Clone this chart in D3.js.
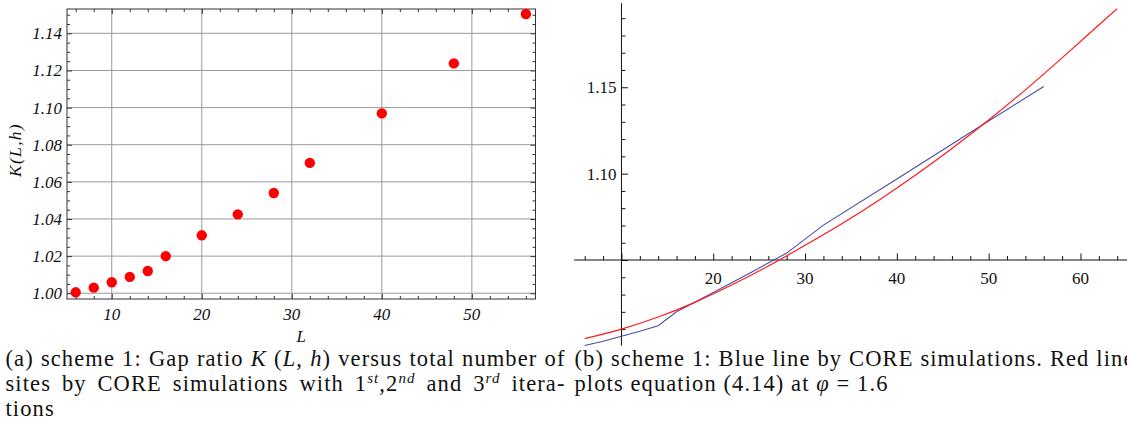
<!DOCTYPE html>
<html>
<head>
<meta charset="utf-8">
<script src="https://cdn.jsdelivr.net/npm/d3@7"></script>
<style>
  html, body { margin: 0; padding: 0; background: #fff; }
  svg { display: block; }
  .tickL { font-family: "Liberation Serif", serif; font-style: italic; font-size: 17px; fill: #111; }
  .tickR { font-family: "Liberation Serif", serif; font-size: 17px; fill: #111; }
  .cap { font-family: "Liberation Serif", serif; font-size: 22.5px; fill: #111; }
</style>
</head>
<body>
<svg id="fig" width="1127" height="429"></svg>
<script>
// CORE simulations: gap ratio K(L,h) against total number of sites L
const sites = [6, 8, 10, 12, 14, 16, 20, 24, 28, 32, 40, 48, 56];
const gapRatio = [1.0005, 1.003, 1.0059, 1.0088, 1.012, 1.020, 1.0312, 1.0425, 1.054, 1.0702, 1.0969, 1.1238, 1.1504];

// Equation (4.14) evaluated at phi = 1.6
const eqSites = [6, 10, 14, 18, 22, 26, 30, 34, 38, 42, 46, 50, 54, 58, 62, 64];
const eqRatio = [1.0045, 1.0100, 1.0170, 1.0255, 1.0355, 1.0465, 1.0585, 1.0710, 1.0845, 1.0990, 1.1145, 1.1310, 1.1485, 1.1670, 1.1860, 1.1955];

// Tick labels
const leftXTicks = [10, 20, 30, 40, 50];
const leftYTicks = [1.00, 1.02, 1.04, 1.06, 1.08, 1.10, 1.12, 1.14];
const rightXTicks = [20, 30, 40, 50, 60];
const rightYTicks = [1.10, 1.15];

const svg = d3.select("#fig");
const frameColor = "#333";

// ---------------- Panel (a): framed scatter plot ----------------
const xL = d3.scaleLinear().domain([5.03, 57.07]).range([67, 535.5]);
const yL = d3.scaleLinear().domain([0.9969, 1.1531]).range([299, 9]);
const [fx0, fx1] = xL.range();
const [fy1, fy0] = yL.range();

const left = svg.append("g");

// grid
left.append("g").selectAll("line").data(leftXTicks).join("line")
  .attr("x1", d => xL(d)).attr("x2", d => xL(d))
  .attr("y1", fy0).attr("y2", fy1)
  .attr("stroke", "#9a9a9a").attr("stroke-width", 1);
left.append("g").selectAll("line").data(leftYTicks).join("line")
  .attr("y1", d => yL(d)).attr("y2", d => yL(d))
  .attr("x1", fx0).attr("x2", fx1)
  .attr("stroke", "#9a9a9a").attr("stroke-width", 1);

// frame ticks (inward, on all four sides)
const minorX = d3.range(6, 57, 2).filter(v => v % 10 !== 0);
const minorY = d3.range(0, 31).filter(i => i % 4 !== 0).map(i => 1 + i * 0.005);

function frameTicks(axisGen, scale, values, size, tx, ty) {
  const g = left.append("g").attr("transform", `translate(${tx},${ty})`)
    .call(axisGen(scale).tickValues(values).tickSizeInner(size).tickSizeOuter(0).tickFormat(""));
  g.select(".domain").remove();
  g.selectAll("line").attr("stroke", frameColor);
}
frameTicks(d3.axisBottom, xL, leftXTicks, -5, 0, fy1);
frameTicks(d3.axisBottom, xL, minorX, -3, 0, fy1);
frameTicks(d3.axisTop, xL, leftXTicks, -5, 0, fy0);
frameTicks(d3.axisTop, xL, minorX, -3, 0, fy0);
frameTicks(d3.axisLeft, yL, leftYTicks, -5, fx0, 0);
frameTicks(d3.axisLeft, yL, minorY, -3, fx0, 0);
frameTicks(d3.axisRight, yL, leftYTicks, -5, fx1, 0);
frameTicks(d3.axisRight, yL, minorY, -3, fx1, 0);

// frame
left.append("rect")
  .attr("x", fx0).attr("y", fy0).attr("width", fx1 - fx0).attr("height", fy1 - fy0)
  .attr("fill", "none").attr("stroke", frameColor).attr("stroke-width", 1);

// tick labels
left.append("g").selectAll("text").data(leftXTicks).join("text")
  .attr("class", "tickL").attr("text-anchor", "middle")
  .attr("x", d => xL(d)).attr("y", fy1 + 21)
  .text(d => d);
left.append("g").selectAll("text").data(leftYTicks).join("text")
  .attr("class", "tickL").attr("text-anchor", "end")
  .attr("x", fx0 - 5).attr("y", d => yL(d)).attr("dy", "0.35em")
  .text(d => d3.format(".2f")(d));

// axis labels
left.append("text").attr("class", "tickL").attr("text-anchor", "middle")
  .attr("x", (fx0 + fx1) / 2).attr("y", 341.5).text("L");
left.append("text").attr("class", "tickL").attr("text-anchor", "middle")
  .attr("transform", `translate(20.5,150) rotate(-90)`)
  .style("font-size", "17.5px").style("letter-spacing", "1.3px")
  .text("K(L,h)");

// points
left.append("g").selectAll("circle").data(sites).join("circle")
  .attr("cx", d => xL(d)).attr("cy", (d, i) => yL(gapRatio[i]))
  .attr("r", 5.2).attr("fill", "#ff0000");

// ---------------- Panel (b): curves on crossing axes ----------------
const xR = d3.scaleLinear().domain([4.83, 65.07]).range([574, 1127]);
const yR = d3.scaleLinear().domain([1.0004, 1.1986]).range([345.7, 3.3]);
const originX = 10, originY = 1.05;

const right = svg.append("g");

// axes lines
right.append("line")
  .attr("x1", xR.range()[0]).attr("x2", xR.range()[1])
  .attr("y1", yR(originY)).attr("y2", yR(originY))
  .attr("stroke", "#111").attr("stroke-width", 1);
right.append("line")
  .attr("x1", xR(originX)).attr("x2", xR(originX))
  .attr("y1", yR.range()[0]).attr("y2", yR.range()[1])
  .attr("stroke", "#111").attr("stroke-width", 1);

// x-axis ticks (upward)
const rMajorX = [10, 20, 30, 40, 50, 60];
const rMinorX = d3.range(6, 65, 2).filter(v => v % 10 !== 0);
function axisTicks(axisGen, scale, values, size, tx, ty) {
  const g = right.append("g").attr("transform", `translate(${tx},${ty})`)
    .call(axisGen(scale).tickValues(values).tickSizeInner(size).tickSizeOuter(0).tickFormat(""));
  g.select(".domain").remove();
  g.selectAll("line").attr("stroke", "#111");
}
axisTicks(d3.axisTop, xR, rMajorX, 6.5, 0, yR(originY));
axisTicks(d3.axisTop, xR, rMinorX, 4, 0, yR(originY));

// y-axis ticks (to the right)
const rMajorY = [1.05, 1.10, 1.15];
const rMinorY = d3.range(1, 20).filter(i => i % 5 !== 0).map(i => 1 + i * 0.01);
axisTicks(d3.axisRight, yR, rMajorY, 6.5, xR(originX), 0);
axisTicks(d3.axisRight, yR, rMinorY, 4, xR(originX), 0);

// tick labels
right.append("g").selectAll("text").data(rightXTicks).join("text")
  .attr("class", "tickR").attr("text-anchor", "middle")
  .attr("x", d => xR(d)).attr("y", yR(originY) + 24)
  .text(d => d);
right.append("g").selectAll("text").data(rightYTicks).join("text")
  .attr("class", "tickR").attr("text-anchor", "end")
  .attr("x", xR(originX) - 5).attr("y", d => yR(d)).attr("dy", "0.35em")
  .text(d => d3.format(".2f")(d));

// simulation line (blue) and equation curve (red)
right.append("path")
  .datum(sites.map((s, i) => [s, gapRatio[i]]))
  .attr("fill", "none").attr("stroke", "#4b4ba6").attr("stroke-width", 1.1)
  .attr("d", d3.line().x(d => xR(d[0])).y(d => yR(d[1])));
right.append("path")
  .datum(eqSites.map((s, i) => [s, eqRatio[i]]))
  .attr("fill", "none").attr("stroke", "#ff1a1a").attr("stroke-width", 1.2)
  .attr("d", d3.line().curve(d3.curveMonotoneX).x(d => xR(d[0])).y(d => yR(d[1])));

// ---------------- Captions ----------------
function captionLine(x, y, parts, letterSpacing, width) {
  const t = svg.append("text").attr("class", "cap").attr("x", x).attr("y", y)
    .style("letter-spacing", letterSpacing + "px");
  let shift = 0;
  parts.forEach(p => {
    const s = t.append("tspan").text(p.t);
    if (p.i) s.attr("font-style", "italic");
    const want = p.sup ? -8 : 0;
    if (want !== shift) { s.attr("dy", want - shift); shift = want; }
    if (p.sup) s.attr("font-size", "15px");
  });
  if (width) {
    const natural = t.node().getComputedTextLength();
    const spaces = parts.map(p => p.t).join("").split(" ").length - 1;
    if (spaces > 0) t.style("word-spacing", ((width - natural) / spaces) + "px");
  }
  return t;
}

// calibrate letter spacing on the unjustified closing line of caption (b)
const lastB = [{ t: "plots equation (4.14) at " }, { t: "φ", i: true }, { t: " = 1.6" }];
const probe = captionLine(574.5, 391, lastB, 0);
const nChars = lastB.map(p => p.t).join("").length;
const spacing = Math.max(0, (314 - probe.node().getComputedTextLength()) / nChars);
probe.style("letter-spacing", spacing + "px");

const capWidth = 560;
captionLine(5.5, 366, [
  { t: "(a) scheme 1: Gap ratio " }, { t: "K", i: true }, { t: " (" }, { t: "L", i: true },
  { t: ", " }, { t: "h", i: true }, { t: ") versus total number of" }
], spacing, capWidth);
captionLine(5.5, 391, [
  { t: "sites by CORE simulations with 1" }, { t: "st", i: true, sup: true },
  { t: ",2" }, { t: "nd", i: true, sup: true }, { t: " and 3" }, { t: "rd", i: true, sup: true },
  { t: " itera-" }
], spacing, capWidth);
captionLine(5.5, 415.5, [{ t: "tions" }], spacing);

captionLine(574.5, 366, [{ t: "(b) scheme 1: Blue line by CORE simulations. Red line" }], spacing, capWidth);
</script>
</body>
</html>
